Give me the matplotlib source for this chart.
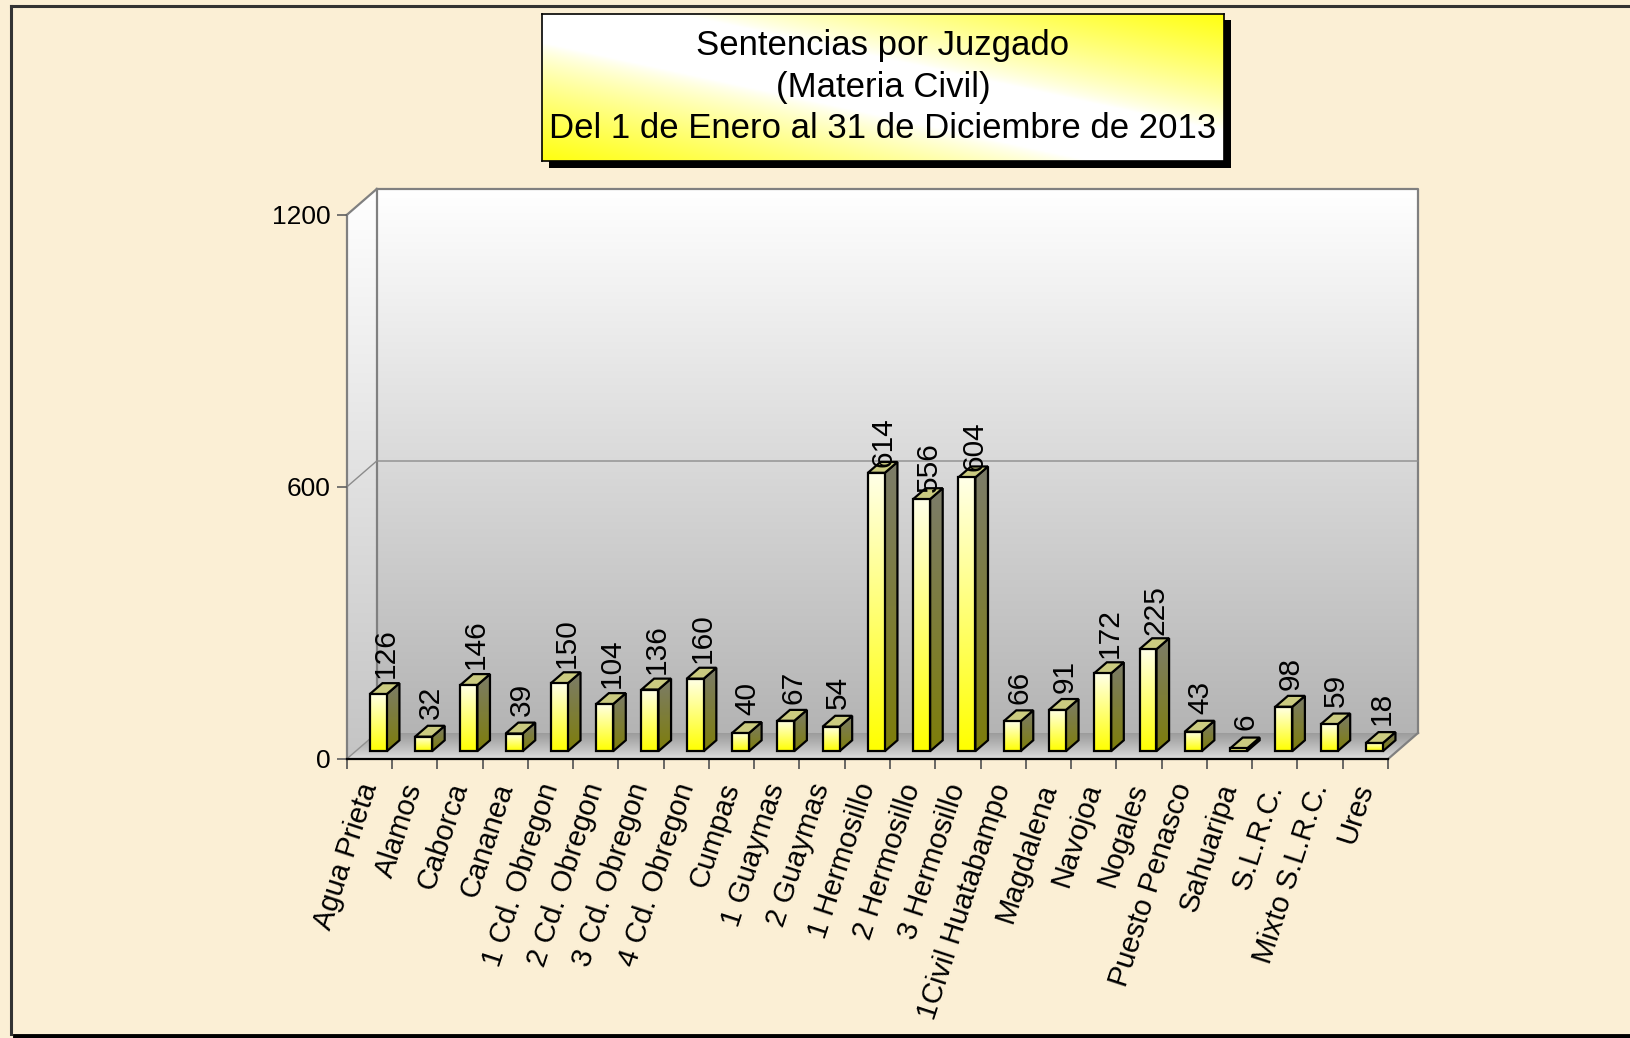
import numpy as np
import matplotlib
matplotlib.use("Agg")
import matplotlib.pyplot as plt
from matplotlib.patches import Polygon, Rectangle
from matplotlib.lines import Line2D
from matplotlib.colors import to_rgb

# ---------------- data ----------------
categories = ["Agua Prieta", "Alamos", "Caborca", "Cananea", "1 Cd. Obregon",
              "2 Cd. Obregon", "3 Cd. Obregon", "4 Cd. Obregon", "Cumpas",
              "1 Guaymas", "2 Guaymas", "1 Hermosillo", "2 Hermosillo",
              "3 Hermosillo", "1Civil Huatabampo", "Magdalena", "Navojoa",
              "Nogales", "Puesto Penasco", "Sahuaripa", "S.L.R.C.",
              "Mixto S.L.R.C.", "Ures"]
values = [126, 32, 146, 39, 150, 104, 136, 160, 40, 67, 54, 614, 556, 604,
          66, 91, 172, 225, 43, 6, 98, 59, 18]
y_ticks = [0, 600, 1200]
title_lines = ["Sentencias por Juzgado", "(Materia Civil)",
               "Del 1 de Enero al 31 de Diciembre de 2013"]

plt.rcParams['font.family'] = ['Liberation Sans', 'DejaVu Sans']

W, H = 1631, 1038
fig = plt.figure(figsize=(W / 100, H / 100), dpi=100)
fig.patch.set_facecolor('#fbefd5')

# front plane of the 3-D chart (pixels)
L, R, B, T = 346.7, 1388.0, 759.0, 215.0
ax = fig.add_axes([L / W, 1 - B / H, (R - L) / W, (B - T) / H])
ax.set_facecolor('none')

n = len(categories)
YMAX = 1200
DX = 30.0 / ((R - L) / n)          # depth offset in category units
DY = 26.0 / ((B - T) / YMAX)       # depth offset in value units
F0, F1 = 0.30, 0.72                # bar depth range (fraction)
BW = 0.375                         # bar width (category units)


def grad_image(extent, c0, c1, clip_xy, z, gamma=1.0):
    t = np.linspace(0, 1, 128) ** gamma
    a = np.array(to_rgb(c0))
    b = np.array(to_rgb(c1))
    cols = a[None, :] * (1 - t[:, None]) + b[None, :] * t[:, None]
    arr = cols[:, None, :]
    im = ax.imshow(arr, extent=extent, origin='lower', aspect='auto',
                   interpolation='bilinear', zorder=z)
    im.set_clip_box(fig.bbox)
    poly = Polygon(clip_xy, closed=True, transform=ax.transData)
    im.set_clip_path(poly)
    return im


# ---------- walls ----------
back = [(DX, DY), (n + DX, DY), (n + DX, YMAX + DY), (DX, YMAX + DY)]
grad_image([DX, n + DX, DY, YMAX + DY], '#b4b4b4', '#ffffff', back, 0.1)
side = [(0, 0), (DX, DY), (DX, YMAX + DY), (0, YMAX)]
grad_image([0, DX, 0, YMAX + DY], '#c4c4c4', '#ffffff', side, 0.1)
floor = [(0, 0), (n, 0), (n + DX, DY), (DX, DY)]
grad_image([0, n + DX, 0, DY], '#e2e2e2', '#9c9c9c', floor, 0.1, gamma=0.8)

edge = dict(color='#808080', lw=1.6, clip_on=False, zorder=0.5)
ax.plot([DX, n + DX, n + DX], [YMAX + DY, YMAX + DY, DY], **edge)
ax.plot([DX, DX], [DY, YMAX + DY], **edge)
ax.plot([0, DX], [YMAX, YMAX + DY], **edge)
ax.plot([n, n + DX], [0, DY], **edge)
ax.plot([0, DX], [0, DY], color='#909090', lw=1.0, clip_on=False, zorder=0.5)
for v in y_ticks[1:-1]:
    ax.plot([0, DX, n + DX], [v, v + DY, v + DY], color='#8c8c8c', lw=1.0,
            clip_on=False, zorder=0.5)

# ---------- bars ----------
for i, v in enumerate(values):
    c = i + 0.5
    x0 = c - BW / 2 + F0 * DX
    x1 = c + BW / 2 + F0 * DX
    y0 = F0 * DY
    y1 = v + F0 * DY
    ddx = (F1 - F0) * DX
    ddy = (F1 - F0) * DY
    z = 2 + i * 0.01
    # side face
    side_xy = [(x1, y0), (x1 + ddx, y0 + ddy), (x1 + ddx, y1 + ddy), (x1, y1)]
    grad_image([x1, x1 + ddx, y0, y1 + ddy], '#7e7e0a', '#7c7c6a', side_xy, z)
    ax.add_patch(Polygon(side_xy, closed=True, fc='none', ec='black', lw=1.6,
                         zorder=z + 0.003, clip_on=False))
    # top face
    top_xy = [(x0, y1), (x1, y1), (x1 + ddx, y1 + ddy), (x0 + ddx, y1 + ddy)]
    ax.add_patch(Polygon(top_xy, closed=True, fc='#cbcb80', ec='black', lw=1.6,
                         zorder=z + 0.004, clip_on=False))
    # front face
    front_xy = [(x0, y0), (x1, y0), (x1, y1), (x0, y1)]
    grad_image([x0, x1, y0, y1], '#ffff00', '#ffffe8', front_xy, z + 0.005)
    ax.add_patch(Polygon(front_xy, closed=True, fc='none', ec='black', lw=1.6,
                         zorder=z + 0.006, clip_on=False))
    # value label (Excel places them slightly compressed in height)
    ax.text(c + 0.5 * (F0 + F1) * DX + 0.02, 0.954 * v + F1 * DY + 17,
            str(v), rotation=90, ha='center', va='bottom', fontsize=21.5,
            zorder=5, clip_on=False)

# ---------- axes ----------
ax.set_xlim(0, n)
ax.set_ylim(0, YMAX)
for s in ['top', 'right']:
    ax.spines[s].set_visible(False)
ax.spines['left'].set_color('#808080')
ax.spines['left'].set_linewidth(1.6)
ax.spines['bottom'].set_color('black')
ax.spines['bottom'].set_linewidth(1.6)
ax.spines['left'].set_zorder(0.6)

ax.set_yticks(y_ticks)
ax.set_yticklabels([str(t) for t in y_ticks])
ax.tick_params(axis='y', direction='out', length=7.5, width=1.2,
               colors='#606060', labelcolor='black', labelsize=19, pad=4)

ax.set_xticks(np.arange(0, n + 1))
ax.set_xticklabels([])
ax.set_xticks(np.arange(n) + 0.5, minor=True)
ax.set_xticklabels(categories, minor=True)
ax.tick_params(axis='x', which='major', direction='out', length=7.5,
               width=1.2, colors='#505050')
ax.tick_params(axis='x', which='minor', length=0, labelsize=21, pad=18)
for lbl in ax.get_xticklabels(minor=True):
    lbl.set_rotation(72)
    lbl.set_ha('right')
    lbl.set_va('center')
    lbl.set_rotation_mode('anchor')

# ---------- title box ----------
bx0, bx1, by0, by1 = 542, 1224, 13.5, 161
sh = 7
fig.add_artist(Rectangle(((bx0 + sh) / W, 1 - (by1 + sh) / H),
                         (bx1 - bx0) / W, (by1 - by0) / H,
                         transform=fig.transFigure, fc='black', ec='none',
                         zorder=3))
tax = fig.add_axes([bx0 / W, 1 - by1 / H, (bx1 - bx0) / W, (by1 - by0) / H],
                   zorder=4)
xx, yy = np.meshgrid(np.linspace(0, 1, 300), np.linspace(0, 1, 100))
d = np.abs(xx + yy - 1.0)
k = np.clip((d - 0.2) / 0.8, 0, 1) ** 0.8
yel = np.array(to_rgb('#ffff10'))
img = (1 - k)[..., None] * np.ones(3) + k[..., None] * yel
tax.imshow(img, extent=[0, 1, 0, 1], origin='lower', aspect='auto',
           interpolation='bilinear')
tax.set_xlim(0, 1)
tax.set_ylim(0, 1)
tax.set_xticks([])
tax.set_yticks([])
for s in tax.spines.values():
    s.set_color('black')
    s.set_linewidth(1.2)

cx = (bx0 + bx1) / 2 / W
for line, yp in zip(title_lines, [45.5, 87.0, 128.5]):
    fig.text(cx, 1 - yp / H, line, ha='center', va='center', fontsize=25,
             zorder=10)

# ---------- outer frame ----------
fig.add_artist(Line2D([11 / W, 11 / W], [1 - 5.5 / H, 1 - 1034 / H],
                      color='#333333', lw=2.2))
fig.add_artist(Line2D([11 / W, 1], [1 - 5.5 / H, 1 - 5.5 / H],
                      color='#333333', lw=2.2))
fig.add_artist(Line2D([15 / W, 1], [1 - 1036 / H, 1 - 1036 / H],
                      color='black', lw=3.5))

fig.savefig('out.png', dpi=100, facecolor=fig.get_facecolor())
